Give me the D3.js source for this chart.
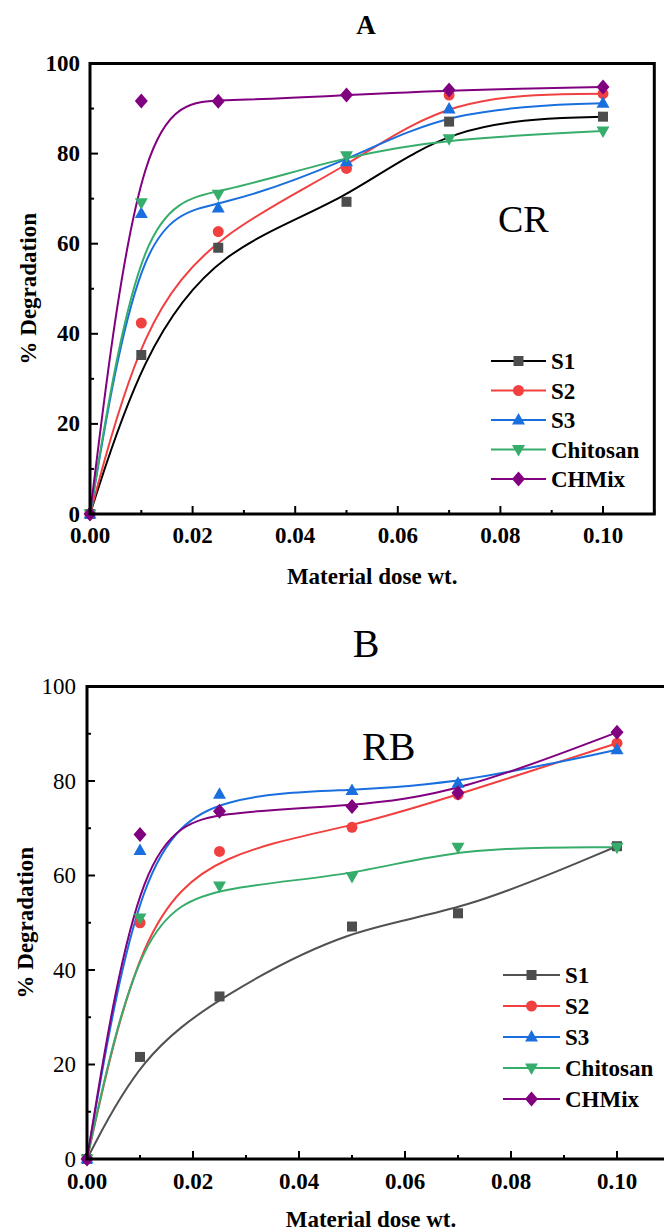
<!DOCTYPE html>
<html><head><meta charset="utf-8">
<script src="https://cdn.jsdelivr.net/npm/d3@7"></script>
<style>html,body{margin:0;padding:0;background:#fff;}svg{display:block;}</style>
</head><body>
<svg id="c" width="664" height="1232"></svg>
<script>
// ---- data ----
const doses = [0, 0.01, 0.025, 0.05, 0.07, 0.1];
const seriesNames = ["S1", "S2", "S3", "Chitosan", "CHMix"];
const yTicks = [0, 20, 40, 60, 80, 100];
const xTicks = [0, 0.02, 0.04, 0.06, 0.08, 0.10];
// Panel A : CR
const crS1 = [0, 35.3, 59.1, 69.3, 87.1, 88.2];
const crS2 = [0, 42.4, 62.7, 76.7, 93.0, 93.3];
const crS3 = [0, 66.7, 67.9, 78.2, 89.9, 91.2];
const crChitosan = [0, 69.1, 71.0, 79.5, 83.3, 85.0];
const crCHMix = [0, 91.7, 91.6, 93.0, 94.1, 94.8];
// Panel B : RB
const rbS1 = [0, 21.6, 34.4, 49.2, 52.0, 66.2];
const rbS2 = [0, 50.0, 65.1, 70.2, 77.1, 88.0];
const rbS3 = [0, 65.3, 77.2, 78.0, 79.5, 86.6];
const rbChitosan = [0, 51.0, 57.8, 59.8, 66.0, 66.0];
const rbCHMix = [0, 68.7, 73.6, 74.6, 77.5, 90.3];

// ---- styles ----
const markerColors = ["#4d4d4d", "#f14040", "#1a6fdf", "#37ad6b", "#800080"];
const markerShapes = ["square", "circle", "triUp", "triDown", "diamond"];
const FONT = "'Liberation Serif','Times New Roman',serif";
const FS = 23;

const svg = d3.select("#c");

function markerPath(shape) {
  switch (shape) {
    case "square": return "M-5,-5H5V5H-5Z";
    case "circle": return "M5.5,0A5.5,5.5 0 1,1 -5.5,0A5.5,5.5 0 1,1 5.5,0Z";
    case "triUp": return "M0,-7L6.5,4.5L-6.5,4.5Z";
    case "triDown": return "M0,7L6.5,-4.5L-6.5,-4.5Z";
    case "diamond": return "M0,-7.5L6.5,0L0,7.5L-6.5,0Z";
  }
}

function panel(cfg) {
  const g = svg.append("g");
  const x = d3.scaleLinear().domain([0, 0.11]).range([cfg.left, cfg.left + 0.11 * cfg.pxPerUnitX]);
  const y = d3.scaleLinear().domain([0, 100]).range([cfg.bottom, cfg.top]);

  // curves (B-spline through the measured points)
  const line = d3.line().x((d, i) => x(doses[i])).y(d => y(d)).curve(d3.curveBasis);
  cfg.series.forEach((vals, k) => {
    g.append("path").attr("d", line(vals)).attr("fill", "none")
      .attr("stroke", cfg.lineColors[k]).attr("stroke-width", 2);
  });
  cfg.series.forEach((vals, k) => {
    g.selectAll(null).data(vals).enter().append("path")
      .attr("d", markerPath(markerShapes[k]))
      .attr("transform", (d, i) => `translate(${x(doses[i])},${y(d)})`)
      .attr("fill", markerColors[k]);
  });

  // frame
  const x0 = x.range()[0], x1 = x.range()[1];
  g.append("rect").attr("x", x0).attr("y", cfg.top).attr("width", x1 - x0).attr("height", cfg.bottom - cfg.top)
    .attr("fill", "none").attr("stroke", "#000").attr("stroke-width", 3);

  // x ticks (inward)
  const xMinor = d3.range(0, 0.1101, 0.01);
  g.selectAll(null).data(xMinor).enter().append("line")
    .attr("x1", d => x(d)).attr("x2", d => x(d))
    .attr("y1", cfg.bottom).attr("y2", (d, i) => cfg.bottom - (i % 2 === 0 ? 8 : 4))
    .attr("stroke", "#000").attr("stroke-width", 2);
  // y ticks (inward)
  const yMinor = d3.range(0, 101, 10);
  g.selectAll(null).data(yMinor).enter().append("line")
    .attr("y1", d => y(d)).attr("y2", d => y(d))
    .attr("x1", x0).attr("x2", (d, i) => x0 + (i % 2 === 0 ? 8 : 4))
    .attr("stroke", "#000").attr("stroke-width", 2);

  // tick labels
  g.selectAll(null).data(xTicks).enter().append("text")
    .attr("x", d => x(d)).attr("y", cfg.xTickBase)
    .attr("text-anchor", "middle").attr("font-family", FONT).attr("font-size", FS)
    .attr("font-weight", "bold").text(d => d3.format(".2f")(d));
  g.selectAll(null).data(yTicks).enter().append("text")
    .attr("x", cfg.yTickRight).attr("y", d => y(d) + 7.5)
    .attr("text-anchor", "end").attr("font-family", FONT).attr("font-size", FS)
    .attr("font-weight", cfg.yTickBold ? "bold" : "normal").text(d => d);

  // axis titles
  g.append("text").attr("x", (x0 + Math.min(x1, 655)) / 2).attr("y", cfg.xTitleBase)
    .attr("text-anchor", "middle").attr("font-family", FONT).attr("font-size", FS)
    .attr("font-weight", "bold").text("Material dose wt.");
  g.append("text").attr("transform", `translate(${cfg.yTitleX},${(cfg.top + cfg.bottom) / 2}) rotate(-90)`)
    .attr("text-anchor", "middle").attr("font-family", FONT).attr("font-size", FS)
    .attr("font-weight", "bold").text("% Degradation");

  // panel title
  g.append("text").attr("x", 366).attr("y", cfg.titleBase).attr("text-anchor", "middle")
    .attr("font-family", FONT).attr("font-size", cfg.titleSize)
    .attr("font-weight", cfg.titleBold ? "bold" : "normal").text(cfg.title);
  // dye label
  g.append("text").attr("x", cfg.dyeX).attr("y", cfg.dyeBase).attr("font-family", FONT)
    .attr("font-size", cfg.dyeSize).text(cfg.dye);

  // legend
  seriesNames.forEach((name, k) => {
    const ly = cfg.legY + k * cfg.legStep;
    g.append("line").attr("x1", cfg.legX).attr("x2", cfg.legX + cfg.legLen).attr("y1", ly).attr("y2", ly)
      .attr("stroke", cfg.lineColors[k]).attr("stroke-width", 2);
    g.append("path").attr("d", markerPath(markerShapes[k]))
      .attr("transform", `translate(${cfg.legX + cfg.legLen / 2},${ly})`).attr("fill", markerColors[k]);
    g.append("text").attr("x", cfg.legX + cfg.legLen + 5).attr("y", ly + 8)
      .attr("font-family", FONT).attr("font-size", FS).attr("font-weight", "bold").text(name);
  });
}

panel({
  left: 90, top: 63.5, bottom: 514, pxPerUnitX: 5130,
  series: [crS1, crS2, crS3, crChitosan, crCHMix],
  lineColors: ["#000000", "#f14040", "#1a6fdf", "#37ad6b", "#800080"],
  xTickBase: 543, yTickRight: 80, yTickBold: true,
  xTitleBase: 584, yTitleX: 36,
  title: "A", titleBase: 34, titleSize: 27, titleBold: true,
  dye: "CR", dyeX: 498, dyeBase: 232, dyeSize: 38,
  legX: 491, legLen: 55, legY: 361, legStep: 29.5
});

panel({
  left: 87, top: 686.5, bottom: 1159, pxPerUnitX: 5300,
  series: [rbS1, rbS2, rbS3, rbChitosan, rbCHMix],
  lineColors: ["#515151", "#f14040", "#1a6fdf", "#37ad6b", "#800080"],
  xTickBase: 1189, yTickRight: 76, yTickBold: false,
  xTitleBase: 1227, yTitleX: 33,
  title: "B", titleBase: 657, titleSize: 40, titleBold: false,
  dye: "RB", dyeX: 362, dyeBase: 760, dyeSize: 40,
  legX: 503, legLen: 57, legY: 975, legStep: 31
});
</script>
</body></html>
